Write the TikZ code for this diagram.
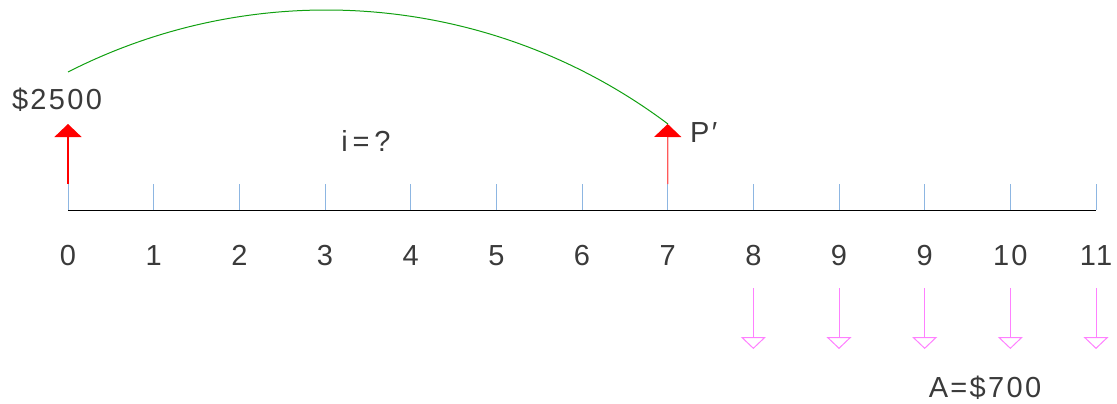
\documentclass[tikz,border=0pt]{standalone}
\usepackage{fontspec}
\setmainfont{Liberation Sans}[LetterSpace=8]
\usetikzlibrary{arrows.meta}
\definecolor{tickblue}{HTML}{8DB6E2}
\definecolor{arcgreen}{HTML}{10A010}
\definecolor{flowred}{HTML}{FF0000}
\definecolor{flowred2}{HTML}{FF5A5A}
\definecolor{payviolet}{HTML}{FF80FF}
\definecolor{txtgray}{HTML}{3A3A3A}
\begin{document}
\begin{tikzpicture}[x=1pt,y=-1pt,
  lbl/.style={font=\fontsize{29}{30}\selectfont, text=txtgray, inner sep=0pt, anchor=base},
  tickline/.style={draw=tickblue, line width=1pt},
  axisline/.style={draw=black, line width=1pt},
  inflow/.style={draw=flowred, line width=1.3pt, -{Triangle[width=27pt,length=13pt,color=flowred,fill=flowred]}},
  outflow/.style={draw=payviolet, line width=1pt, -{Triangle[open,width=25pt,length=12pt]}},
  arcline/.style={draw=arcgreen, line width=1pt}]
\useasboundingbox (0,0) rectangle (1117,404);
% axis
\coordinate (a0) at (68,210);
\coordinate (a12) at (1096,210);
\draw[axisline] (a0) -- (a12);
% ticks and labels
\foreach \i/\lab in {0/0,1/1,2/2,3/3,4/4,5/5,6/6,7/7,8/8,9/9,10/9,11/10,12/11}{
  \coordinate (t\i) at (68+\i*85.667,210);
  \coordinate (u\i) at (68+\i*85.667,184);
  \draw[tickline] (t\i) -- (u\i);
  \node[lbl] (l\i) at (68+\i*85.667,265) {\lab};
}
% inflow arrows
\coordinate (h0) at (68,124);
\coordinate (h7) at (667.7,124);
\draw[inflow] (u0) -- (h0);
\draw[inflow, draw=flowred2] (u7) -- (h7);
% payment arrows
\foreach \i in {8,...,12}{
  \coordinate (p\i) at (68+\i*85.667,288);
  \coordinate (q\i) at (68+\i*85.667,349);
  \draw[outflow] (p\i) -- (q\i);
}
% arc
\coordinate (s) at (68,72);
\draw[arcline] (s) arc[start angle=-117, end angle=-53.1, radius=569];
% texts
\node[lbl] (amt) at (57,110) {\$2500};
\node[lbl, anchor=base west] (pp) at (690,142) {P′};
\node[lbl] (rate) at (366,151) {i\,=\,?};
\node[lbl] (ann) at (985,397) {A=\$700};
\end{tikzpicture}
\end{document}
